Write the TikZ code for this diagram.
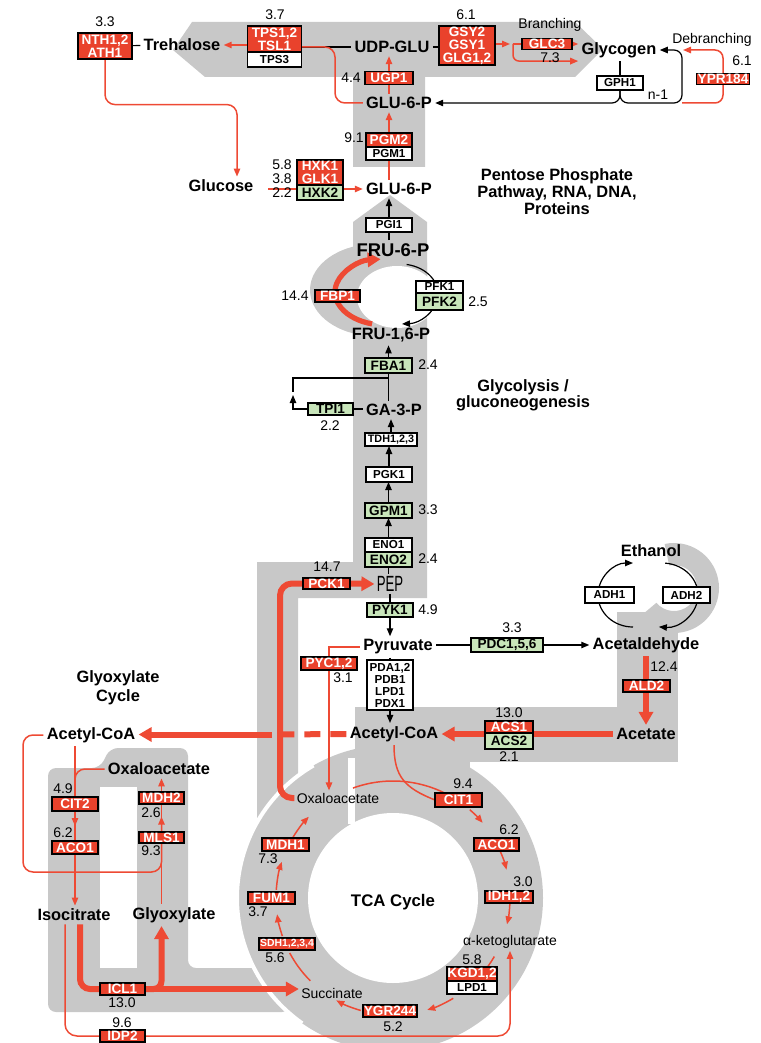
\documentclass[tikz,border=0pt]{standalone}
\usepackage{fontspec}
\setmainfont{Liberation Sans}
\usepackage{graphicx}
\usetikzlibrary{arrows.meta,positioning,calc}
\definecolor{EnzRed}{RGB}{233,66,44}
\definecolor{LineRed}{RGB}{238,74,52}
\definecolor{EnzGreen}{RGB}{200,229,186}
\definecolor{BandGray}{RGB}{200,200,200}
\pgfdeclarelayer{bands}
\pgfdeclarelayer{links}
\pgfsetlayers{bands,links,main}

\begin{document}
\begin{tikzpicture}[x=0.5pt, y=-0.5pt,
    met/.style={font=\bfseries\fontsize{8.2}{9}\selectfont, inner sep=1.5pt},
    lab/.style={font=\fontsize{7}{8}\selectfont, inner sep=1pt},
    num/.style={font=\fontsize{7}{8}\selectfont, inner sep=0pt},
    enz/.style={draw=black, line width=0.6pt, inner sep=0pt, outer sep=0pt, align=center},
    renz/.style={enz, fill=EnzRed, text=white, font=\bfseries\fontsize{6.8}{6.5}\selectfont},
    genz/.style={enz, fill=EnzGreen, font=\bfseries\fontsize{6.8}{6.5}\selectfont},
    wenz/.style={enz, fill=white, font=\bfseries\fontsize{5.8}{6}\selectfont},
    blk/.style={draw=black, line width=0.6pt},
    rln/.style={draw=LineRed, line width=0.75pt},
    rthk/.style={draw=LineRed, line width=3pt},
    arr/.style={-{Triangle[length=4pt,width=3.2pt]}},
    bigarr/.style={-{Triangle[length=6.5pt,width=7pt]}},
  ]
    \useasboundingbox (0,0) rectangle (760,1043);

    % Helper points
    \coordinate (gsyout) at (513,44);
    \coordinate (brk) at (682,103);
    \coordinate (debtip) at (683,50);
    \coordinate (glcout) at (268,189);
    \coordinate (fbpc) at (385,292);
    \coordinate (pfkc) at (400,294);
    \coordinate (tpibr) at (293,378);
    \coordinate (pckbend) at (280,583.5);
    \coordinate (dashend) at (272,734.5);
    \coordinate (adhl) at (633,595);
    \coordinate (adhr) at (662,595);
    \coordinate (ehc) at (674,588);
    \coordinate (loopc) at (23,872);
    \coordinate (ringc) at (390,898);
    \coordinate (tcac) at (393,898);

    % Trehalose and glycogen
    \node[num] at (105,22) {3.3};
    \node[renz, minimum width=27pt, minimum height=13pt] (nth) at (105,46) {NTH1,2\\ATH1};
    \node[met] (treh) at (182,45) {Trehalose};
    \node[num] at (275,15) {3.7};
    \node[renz, minimum width=27pt, minimum height=13pt] (tps) at (274.5,39) {TPS1,2\\TSL1};
    \node[wenz, minimum width=27pt, minimum height=7.5pt, below=0pt of tps] (tpsthree) {TPS3};
    \node[met] (udpglu) at (392,47) {UDP-GLU};
    \node[num] at (351,78) {4.4};
    \node[renz, minimum width=24pt, minimum height=6.5pt] (ugp) at (389,78) {UGP1};
    \node[met] (glupa) at (399,103) {GLU-6-P};
    \node[num] at (354,138) {9.1};
    \node[renz, minimum width=23pt, minimum height=7pt] (pgmtwo) at (389,140) {PGM2};
    \node[wenz, minimum width=23pt, minimum height=6.5pt, below=0pt of pgmtwo] (pgmone) {PGM1};
    \node[num] at (466,15) {6.1};
    \node[renz, minimum width=28pt, minimum height=19.5pt] (gsy) at (467,45.5) {GSY2\\GSY1\\GLG1,2};
    \node[lab] at (550,25) {Branching};
    \node[renz, minimum width=25pt, minimum height=5.5pt] (glc) at (547,44) {GLC3};
    \node[num] at (550,58) {7.3};
    \node[met] (glycogen) at (619,50) {Glycogen};
    \node[wenz, minimum width=23pt, minimum height=7pt] (gph) at (620,83) {GPH1};
    \node[lab] at (658,95) {n-1};
    \node[lab] at (712,40) {Debranching};
    \node[num] at (742,61) {6.1};
    \node[renz, minimum width=26.5pt, minimum height=5.5pt] (ypr) at (723,79) {YPR184};

    % Glucose
    \node[met] (glucose) at (221,186) {Glucose};
    \node[num] at (282,165) {5.8};
    \node[num] at (282,179) {3.8};
    \node[num] at (282,193) {2.2};
    \node[renz, minimum width=23pt, minimum height=12.5pt] (hxk) at (320,172.5) {HXK1\\GLK1};
    \node[genz, minimum width=23pt, minimum height=7.5pt, below=0pt of hxk] (hxktwo) {HXK2};
    \node[met] (glupb) at (399,189) {GLU-6-P};
    \node[met, align=center, font=\bfseries\fontsize{8.2}{8.5}\selectfont] (ppp) at (557,192) {Pentose Phosphate\\Pathway, RNA, DNA,\\Proteins};

    % Glycolysis / gluconeogenesis
    \node[wenz, minimum width=23pt, minimum height=7pt] (pgi) at (389,225) {PGI1};
    \node[met, font=\bfseries\fontsize{9.2}{10}\selectfont] (frusix) at (393,250) {FRU-6-P};
    \node[num] at (295,296) {14.4};
    \node[renz, minimum width=22.5pt, minimum height=6pt] (fbp) at (337.5,296) {FBP1};
    \node[wenz, minimum width=23.5pt, minimum height=6pt] (pfkone) at (439.5,287) {PFK1};
    \node[genz, minimum width=23.5pt, minimum height=8.5pt, below=0pt of pfkone] (pfktwo) {PFK2};
    \node[num] at (478,302) {2.5};
    \node[met] (frubis) at (391,335) {FRU-1,6-P};
    \node[genz, minimum width=23.5pt, minimum height=7.5pt] (fba) at (388.5,365.5) {FBA1};
    \node[num] at (428,365) {2.4};
    \node[met, align=center, font=\bfseries\fontsize{8.2}{8}\selectfont] at (523,395) {Glycolysis /\\gluconeogenesis};
    \node[genz, minimum width=22.5pt, minimum height=6pt] (tpi) at (330.5,409) {TPI1};
    \node[num] at (330,426) {2.2};
    \node[met] (gap) at (394,410) {GA-3-P};
    \node[wenz, minimum width=26pt, minimum height=6.5pt, font=\bfseries\fontsize{5.4}{6}\selectfont] (tdh) at (391,439.5) {TDH1,2,3};
    \node[wenz, minimum width=23pt, minimum height=7.5pt] (pgk) at (389,474.5) {PGK1};
    \node[genz, minimum width=23.5pt, minimum height=7.5pt] (gpm) at (388.5,510.5) {GPM1};
    \node[num] at (428,510) {3.3};
    \node[wenz, minimum width=23.5pt, minimum height=7pt] (enoone) at (388.5,545) {ENO1};
    \node[genz, minimum width=23.5pt, minimum height=7.5pt, below=0pt of enoone] (enotwo) {ENO2};
    \node[num] at (428,559) {2.4};
    \node[inner sep=1pt] (pep) at (390,584) {\scalebox{0.6}[1]{\fontsize{11}{11}\selectfont PEP}};
    \node[num] at (327,567) {14.7};
    \node[renz, minimum width=23.5pt, minimum height=5.5pt] (pck) at (326.5,583.5) {PCK1};
    \node[genz, minimum width=23pt, minimum height=7pt] (pyk) at (390,610) {PYK1};
    \node[num] at (428,610) {4.9};
    \node[met] (pyr) at (398,647) {Pyruvate};
    \node[num] at (512,628) {3.3};
    \node[genz, minimum width=36pt, minimum height=7pt] (pdc) at (507,645) {PDC1,5,6};
    \node[met] (acald) at (646,645) {Acetaldehyde};
    \node[wenz, minimum width=23pt, minimum height=25pt] (pda) at (390,685) {PDA1,2\\PDB1\\LPD1\\PDX1};
    \node[renz, minimum width=28pt, minimum height=6.5pt] (pyc) at (329,663.5) {PYC1,2};
    \node[num] at (343,678) {3.1};
    \node[met] (acoar) at (394,734) {Acetyl-CoA};
    \node[num] at (509,713) {13.0};
    \node[renz, minimum width=24pt, minimum height=6pt] (acsone) at (509,727) {ACS1};
    \node[genz, minimum width=24pt, minimum height=8pt, below=0pt of acsone] (acstwo) {ACS2};
    \node[num] at (509,757) {2.1};
    \node[met] (acetate) at (646,734) {Acetate};
    \node[num] at (664,667) {12.4};
    \node[renz, minimum width=23.5pt, minimum height=6pt] (ald) at (646.5,686) {ALD2};
    \node[met] (ethanol) at (651,551) {Ethanol};
    \node[wenz, minimum width=24.5pt, minimum height=8pt] (adhone) at (609.5,595) {ADH1};
    \node[wenz, minimum width=23.5pt, minimum height=8pt] (adhtwo) at (686.5,595) {ADH2};

    % Glyoxylate cycle
    \node[met, align=center, font=\bfseries\fontsize{8.2}{9.5}\selectfont] at (118,688) {Glyoxylate\\Cycle};
    \node[met] (acoal) at (91,735) {Acetyl-CoA};
    \node[met] (oaag) at (159,769) {Oxaloacetate};
    \node[num] at (63,789) {4.9};
    \node[renz, minimum width=23pt, minimum height=7pt] (cittwo) at (75,804) {CIT2};
    \node[num] at (63,833) {6.2};
    \node[renz, minimum width=23pt, minimum height=6.5pt] (acog) at (75,847.5) {ACO1};
    \node[renz, minimum width=22.5pt, minimum height=6pt] (mdhtwo) at (161.5,798) {MDH2};
    \node[num] at (151,813) {2.6};
    \node[renz, minimum width=22.5pt, minimum height=5.5pt] (mls) at (161.5,837.5) {MLS1};
    \node[num] at (151,851) {9.3};
    \node[met] (isocit) at (74,915) {Isocitrate};
    \node[met] (glyox) at (174,915) {Glyoxylate};
    \node[renz, minimum width=22.5pt, minimum height=6pt] (icl) at (122.5,989) {ICL1};
    \node[num] at (122,1003) {13.0};
    \node[num] at (122,1023) {9.6};
    \node[renz, minimum width=22.5pt, minimum height=6pt] (idp) at (122.5,1036) {IDP2};

    % TCA cycle
    \node[met, font=\bfseries\fontsize{8.4}{9}\selectfont] at (393,902) {TCA Cycle};
    \node[lab] (oaat) at (338,798) {Oxaloacetate};
    \node[lab] (succ) at (332,993) {Succinate};
    \node[lab] (akg) at (510,942) {α-ketoglutarate};
    \node[num] at (463,784) {9.4};
    \node[renz, minimum width=23.5pt, minimum height=7pt] (citone) at (458.5,800) {CIT1};
    \node[num] at (509,830) {6.2};
    \node[renz, minimum width=22.5pt, minimum height=6.5pt] (acot) at (496.5,844.5) {ACO1};
    \node[num] at (523,882) {3.0};
    \node[renz, minimum width=24pt, minimum height=6pt] (idh) at (509,897) {IDH1,2};
    \node[num] at (472,960) {5.8};
    \node[renz, minimum width=25pt, minimum height=7pt] (kgd) at (472,974) {KGD1,2};
    \node[wenz, minimum width=25pt, minimum height=6.5pt, below=0pt of kgd] (lpd) {LPD1};
    \node[renz, minimum width=27pt, minimum height=6pt] (ygr) at (390,1011) {YGR244};
    \node[num] at (393,1027) {5.2};
    \node[renz, minimum width=28pt, minimum height=6pt, font=\bfseries\fontsize{5.2}{6}\selectfont] (sdh) at (287,944) {SDH1,2,3,4};
    \node[num] at (275,958) {5.6};
    \node[renz, minimum width=23.5pt, minimum height=6pt] (fum) at (271.5,898) {FUM1};
    \node[num] at (258,912) {3.7};
    \node[renz, minimum width=23.5pt, minimum height=6.5pt] (mdhone) at (285.5,844.5) {MDH1};
    \node[num] at (268,859) {7.3};

    \begin{pgfonlayer}{links}
    % Trehalose and glycogen
    \draw[blk] (nth) -- (treh);
    \draw[rln, arr] (tps.west |- treh) -- (treh.east);
    \draw[blk] (tps.east |- udpglu) -- (udpglu.west);
    \draw[rln, rounded corners=5] (glupa.west) -| (335,47) -- (tps.east |- udpglu);
    \draw[rln, arr, rounded corners=5] (nth.south) |- ($(glucose.north)+(16,-72)$) -- ($(glucose.north)+(16,0)$);
    \draw[rln, arr] (glcout) -- (glcout -| glupb.west);
    \draw[rln] (pgmone.south |- glupb.north) -- (pgmone.south);
    \draw[rln, arr] (pgmtwo.north) -- (pgmtwo.north |- glupa.south);
    \draw[rln] (ugp.south |- glupa.north) -- (ugp.south);
    \draw[rln, arr] (ugp.north) -- (ugp.north |- udpglu.south);
    \draw[blk] (udpglu.east) -- (gsy.west |- udpglu);
    \draw[rln, arr] (gsy.east |- gsyout) -- ($(gsyout)+(-3,0)$);
    \draw[rln] (gsyout) -- (glc.west);
    \draw[rln, arr] (glc.east) -- (glycogen.west |- glc);
    \draw[rln, arr, rounded corners=3] (gsyout) |- (glycogen.south west);
    \draw[blk] (glycogen.south -| gph) -- (gph.north);
    \draw[blk, arr, rounded corners=4] (gph.south) |- (glupa.east);
    \draw[blk, arr, rounded corners=4] (gph.south) |- (brk) |- (glycogen.east);
    \draw[rln, arr, rounded corners=4] (brk) -| (ypr) |- (debtip);

    % Glycolysis
    \draw[blk, arr] (pgi.north) -- (pgi.north |- glupb.south);
    \draw[blk] (pgi.south |- frusix.north) -- (pgi.south);
    \draw[blk, arr] ([shift={(-80:38 and 30)}]pfkc) arc[start angle=-80, end angle=87, x radius=38, y radius=30];
    \draw[rthk, line width=2.6pt, bigarr] ([shift={(105:50 and 33)}]fbpc) arc[start angle=105, end angle=265, x radius=50, y radius=33];
    \draw[blk, arr] (fba.north) -- (fba.north |- frubis.south);
    \draw[blk] (fba.south) -- (fba.south |- gap.north);
    \draw[blk] (fba.south |- tpibr) -- (tpibr) -- ($(tpibr)+(0,14)$);
    \draw[blk, arr] (tpi.west) -| ($(tpibr)+(0,17)$);
    \draw[blk] (tpi.east) -- (gap.west |- tpi.east);
    \draw[blk, arr] (tdh.north) -- (tdh.north |- gap.south);
    \draw[blk, arr] (pgk.north) -- (pgk.north |- tdh.south);
    \draw[blk, arr] (gpm.north) -- (gpm.north |- pgk.south);
    \draw[blk, arr] (enoone.north) -- (enoone.north |- gpm.south);
    \draw[blk] (enotwo.south) -- (enotwo.south |- pep.north);
    \draw[blk] (pyk.north |- pep.south) -- (pyk.north);
    \draw[blk, arr] (pyk.south) -- (pyk.south |- pyr.north);
    \draw[blk] (pyr.east |- pdc) -- (pdc.west);
    \draw[blk, arr] (pdc.east) -- (acald.west |- pdc);
    \draw[blk] (pda.north |- pyr.south) -- (pda.north);
    \draw[blk, arr] (pda.south) -- (pda.south |- acoar.north);
    \draw[blk, arr] ([shift={(90:35 and 32)}]adhl) arc[start angle=90, end angle=270, x radius=35, y radius=32];
    \draw[blk, arr] ([shift={(-85:36 and 32)}]adhr) arc[start angle=-85, end angle=95, x radius=36, y radius=32];

    % Gluconeogenesis, acetate and pyruvate carboxylase
    \draw[rthk, rounded corners=6] (oaat.west) -| (pckbend) -- (pck.west);
    \draw[rthk, bigarr] (pck.east) -- (pep.west);
    \draw[rln, arr] (pyr.west) -| (pyc.center |- oaat.north);
    \draw[rthk, bigarr] (acetate.west) -- (acoar.east);
    \draw[rthk, bigarr] (acald.south) -- (acetate.north);
    \draw[rthk, dash pattern=on 8pt off 5pt] (acoar.west) -- (dashend);
    \draw[rthk, bigarr] (dashend) -- (acoal.east |- dashend);
    \draw[rln] (acoar.south) .. controls +(0,32) and +(-30,-12) .. (citone.west);

    % TCA cycle
    \draw[rln] ([shift={(250:117)}]tcac) arc[start angle=250, end angle=300, radius=117];
    \draw[rln, arr] ([shift={(311:117)}]tcac) arc[start angle=311, end angle=320, radius=117];
    \draw[rln, arr] ([shift={(336:117)}]tcac) arc[start angle=336, end angle=346, radius=117];
    \draw[rln, arr] ([shift={(3:117)}]tcac) arc[start angle=3, end angle=13, radius=117];
    \draw[rln] ([shift={(30:117)}]tcac) arc[start angle=30, end angle=40, radius=117];
    \draw[rln, arr] ([shift={(59:117)}]tcac) arc[start angle=59, end angle=73, radius=117];
    \draw[rln, arr] ([shift={(106:117)}]tcac) arc[start angle=106, end angle=119, radius=117];
    \draw[rln] ([shift={(135:117)}]tcac) arc[start angle=135, end angle=152, radius=117];
    \draw[rln, arr] ([shift={(161:117)}]tcac) arc[start angle=161, end angle=172, radius=117];
    \draw[rln, arr] ([shift={(184:117)}]tcac) arc[start angle=184, end angle=198, radius=117];
    \draw[rln, arr] ([shift={(211:117)}]tcac) arc[start angle=211, end angle=224, radius=117];

    % Glyoxylate cycle
    \draw[rln] (cittwo.north |- acoal.south) -- (cittwo.north);
    \draw[rln, rounded corners=5] (oaag.west) -| (cittwo.north);
    \draw[rln] (cittwo.south) -- (acog.north);
    \draw[rln, arr] (cittwo.south) -- ($(cittwo.south)!0.5!(acog.north)$);
    \draw[rln, arr] (acog.south) -- (acog.south |- isocit.north);
    \draw[rln] (mls.south |- glyox.north) -- (mls.south);
    \draw[rln] (mls.north) -- (mdhtwo.south);
    \draw[rln, arr] (mls.north) -- ($(mls.north)!0.55!(mdhtwo.south)$);
    \draw[rln, arr] (mdhtwo.north) -- (mdhtwo.north |- oaag.south);
    \draw[rln, rounded corners=5] (acoal.west) -| (loopc) -| (mls.south);
    \draw[rthk, rounded corners=5] ($(isocit.south)+(6,0)$) |- (icl.west);
    \draw[rthk, bigarr] (icl.east) -- (succ.west |- icl);
    \draw[rthk, bigarr, rounded corners=4] (icl.east) -| (mls.center |- glyox.south);
    \draw[rln, arr, rounded corners=6] ($(isocit.south)+(-9,0)$) |- (idp) -| (akg.south);
    \end{pgfonlayer}

    \begin{pgfonlayer}{bands}
    % Top band
    \fill[BandGray] (192,22) -- (575,22) -- (603,49) -- (575,77) -- (425,77) -- (425,167)
      -- (353,167) -- (353,77) -- (205,77) -- (173,50) -- cycle;
    % Glycolysis column
    \fill[BandGray] (353,222) -- (390,195) -- (427,222) -- (427,598) -- (298,598) -- (298,820)
      -- (257,820) -- (257,562) -- (353,562) -- cycle;
    \begin{scope}
      \clip (0,0) rectangle (427,560);
      \fill[BandGray] (375,290) ellipse [x radius=65, y radius=46];
    \end{scope}
    \fill[white] (397,297) ellipse [x radius=40, y radius=31];
    % Glyoxylate letters
    \fill[BandGray, rounded corners=4] (48,768) -- (100,768) -- (110,748) -- (188,748) -- (188,968)
      -- (290,968) -- (290,1012) -- (48,1012) -- cycle;
    \fill[white] (100,787) rectangle (137,968);
    % Acetate and ethanol
    \fill[BandGray] (355,707) rectangle (678,762);
    \fill[BandGray] (617,612) rectangle (678,762);
    \fill[BandGray] (355,707) rectangle (470,830);
    \fill[BandGray] ([shift={(258:45)}]ehc) arc[start angle=258, end angle=500, radius=45]
      -- ([shift={(140:23)}]ehc) arc[start angle=140, end angle=-102, radius=23] -- cycle;
    % TCA ring
    \fill[BandGray] (ringc) circle [radius=153];
    \draw[white, line width=2pt] ([shift={(125:153)}]ringc) arc[start angle=125, end angle=240, radius=153];
    \fill[white] (tcac) circle [radius=85];
    \fill[BandGray] (308,773) rectangle (348,815);
    \draw[white, line width=3.5pt] (351.5,758) -- (351.5,824);
    \end{pgfonlayer}
\end{tikzpicture}
\end{document}
